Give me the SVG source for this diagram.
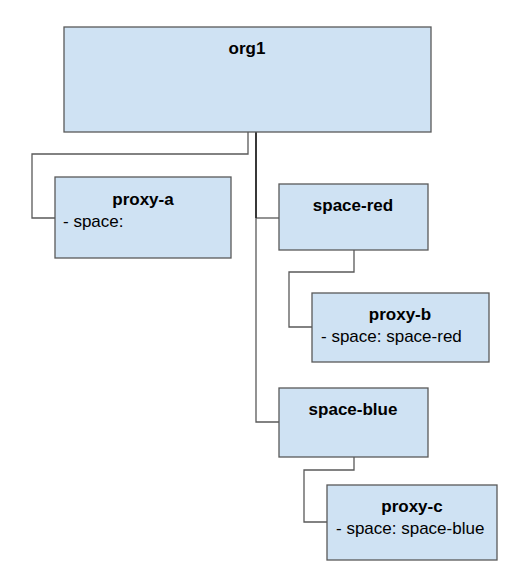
<svg xmlns="http://www.w3.org/2000/svg" width="516" height="586" viewBox="0 0 516 586">
<style>
.box{fill:#cfe2f3;stroke:#595959;stroke-width:1.3}
.t{font-family:"Liberation Sans",Arial,sans-serif;font-size:17px;fill:#000}
.b{font-weight:bold;text-anchor:middle}
.c{fill:none;stroke:#595959;stroke-width:1.3}
</style>
<rect width="516" height="586" fill="#fff"/>
<g id="connectors">
<path class="c" d="M248,132 V154 H32 V218 H55"/>
<path class="c" d="M256,130 V422 H279"/>
<path class="c" d="M256,218 H279"/>
<path class="c" d="M256,130 V218" style="stroke:#222;stroke-width:1.6"/>
<path class="c" d="M354,250 V272 H289 V327 H312"/>
<path class="c" d="M354,457 V470 H304 V522 H327"/>
</g>
<g id="org1">
<rect class="box" x="64" y="27" width="367" height="105"/>
<text class="t b" x="247" y="54">org1</text>
</g>
<g id="proxy-a">
<rect class="box" x="55" y="177" width="176" height="81"/>
<text class="t b" x="143" y="205">proxy-a</text>
<text class="t" x="63" y="227">- space:</text>
</g>
<g id="space-red">
<rect class="box" x="279" y="184" width="149" height="66"/>
<text class="t b" x="353" y="211">space-red</text>
</g>
<g id="proxy-b">
<rect class="box" x="312" y="293" width="177" height="69"/>
<text class="t b" x="400" y="320">proxy-b</text>
<text class="t" x="321" y="342">- space: space-red</text>
</g>
<g id="space-blue">
<rect class="box" x="279" y="388" width="149" height="69"/>
<text class="t b" x="353" y="415">space-blue</text>
</g>
<g id="proxy-c">
<rect class="box" x="327" y="485" width="170" height="75"/>
<text class="t b" x="412" y="512">proxy-c</text>
<text class="t" x="336" y="534">- space: space-blue</text>
</g>
</svg>
